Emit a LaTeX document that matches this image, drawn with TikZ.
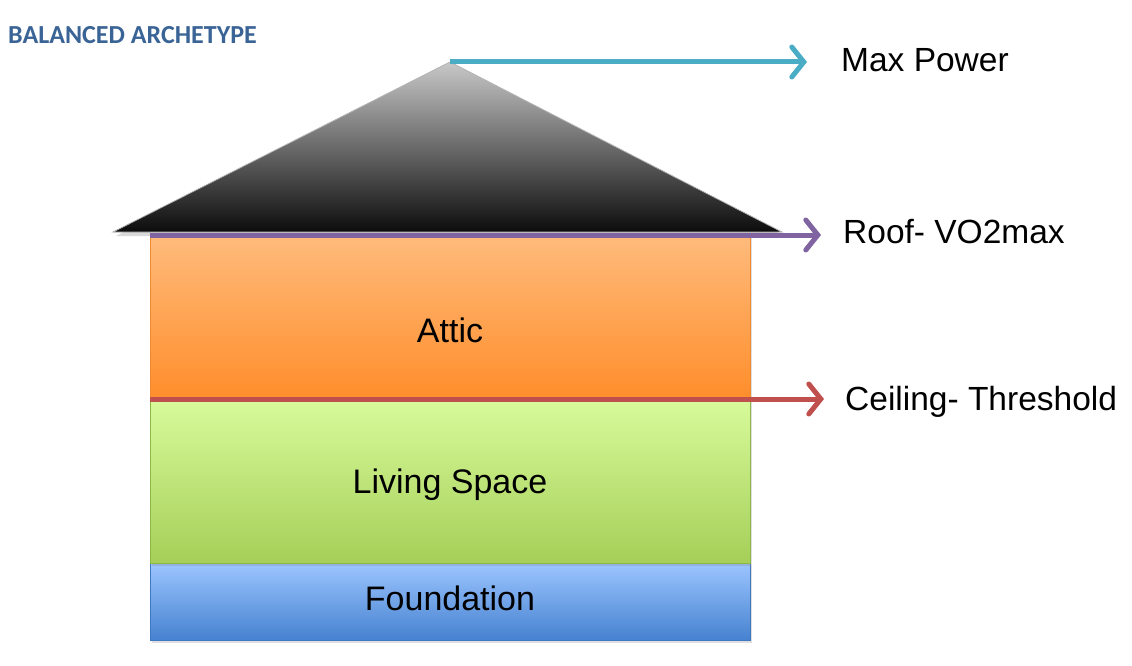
\documentclass[tikz,border=0pt]{standalone}
\usepackage{fontspec}
\setmainfont{Liberation Sans}
\newfontfamily\titlefont{Carlito}
\usetikzlibrary{arrows.meta,shadows,calc}
\definecolor{titleblue}{HTML}{3A6496}
\definecolor{cyanarr}{HTML}{4BACC6}
\definecolor{purplearr}{HTML}{8064A2}
\definecolor{redarr}{HTML}{C0504D}
\definecolor{atticTop}{HTML}{FFBB7C}
\definecolor{atticBot}{HTML}{FF8E2C}
\definecolor{atticEdge}{HTML}{F08A30}
\definecolor{livTop}{HTML}{D9FB9C}
\definecolor{livBot}{HTML}{A5CF58}
\definecolor{livEdge}{HTML}{8DB848}
\definecolor{fndTop}{HTML}{9CC5FF}
\definecolor{fndBot}{HTML}{4682D0}
\definecolor{fndEdge}{HTML}{3F77C0}
\definecolor{roofTop}{HTML}{C8C8C8}
\definecolor{roofBot}{HTML}{0C0C0C}
\tikzset{
  layer/.style={minimum width=600pt, inner sep=0pt, line width=1pt,
    drop shadow={opacity=0.25, shadow xshift=2pt, shadow yshift=-3pt}},
  layertext/.style={inner sep=0pt, font=\fontsize{34}{38}\selectfont},
  lbl/.style={anchor=west, inner sep=0pt, font=\fontsize{33.5}{38}\selectfont},
  arr/.style={line width=5pt, -{Straight Barb[length=12pt,width=30pt,line cap=round]}, shorten >=34pt}
}
\begin{document}
\begin{tikzpicture}[x=1pt,y=-1pt]
\useasboundingbox (0,0) rectangle (1132,666);
% title
\node[anchor=west, inner sep=0pt, text=titleblue, font=\titlefont\bfseries\fontsize{26}{30}\selectfont] (title) at (8,35) {BALANCED ARCHETYPE};
% layers
\node[layer, minimum height=77pt, draw=fndEdge, top color=fndTop, bottom color=fndBot] (fnd) at (450,601.5) {};
\node[layer, minimum height=166pt, draw=livEdge, top color=livTop, bottom color=livBot] (liv) at (450,480) {};
\node[layer, minimum height=162pt, draw=atticEdge, top color=atticTop, bottom color=atticBot] (attic) at (450,316) {};
\node[layertext] (fndlbl) at (450,598) {Foundation};
\node[layertext] (livlbl) at (450,485) {Living Space};
\node[layertext] (atticlbl) at (450,330) {Attic};
% roof
\coordinate (apex) at (450,62);
\coordinate (roofL) at (113,232);
\coordinate (roofR) at (782,232);
\fill[black, opacity=0.15] ($(roofL)+(3,4)$) -- ($(apex)+(3,4)$) -- ($(roofR)+(3,4)$) -- cycle;
\shade[top color=roofTop, bottom color=roofBot, draw=gray!60, line width=0.8pt] (roofL) -- (apex) -- (roofR) -- cycle;
% eave and ceiling lines
\coordinate (eave) at (150,235);
\coordinate (ceil) at (150,399);
% labels
\node[lbl] (mp) at (841,60) {Max Power};
\node[lbl] (roof) at (843,232) {Roof- VO2max};
\node[lbl] (ceiling) at (845,402) {Ceiling- Threshold};
% arrows
\draw[arr, cyanarr] (apex) -- (apex -| mp.west);
\draw[arr, purplearr, shorten >=22pt] (eave) -- (eave -| roof.west);
\draw[arr, redarr, shorten >=21pt] (ceil) -- (ceil -| ceiling.west);
\end{tikzpicture}
\end{document}
